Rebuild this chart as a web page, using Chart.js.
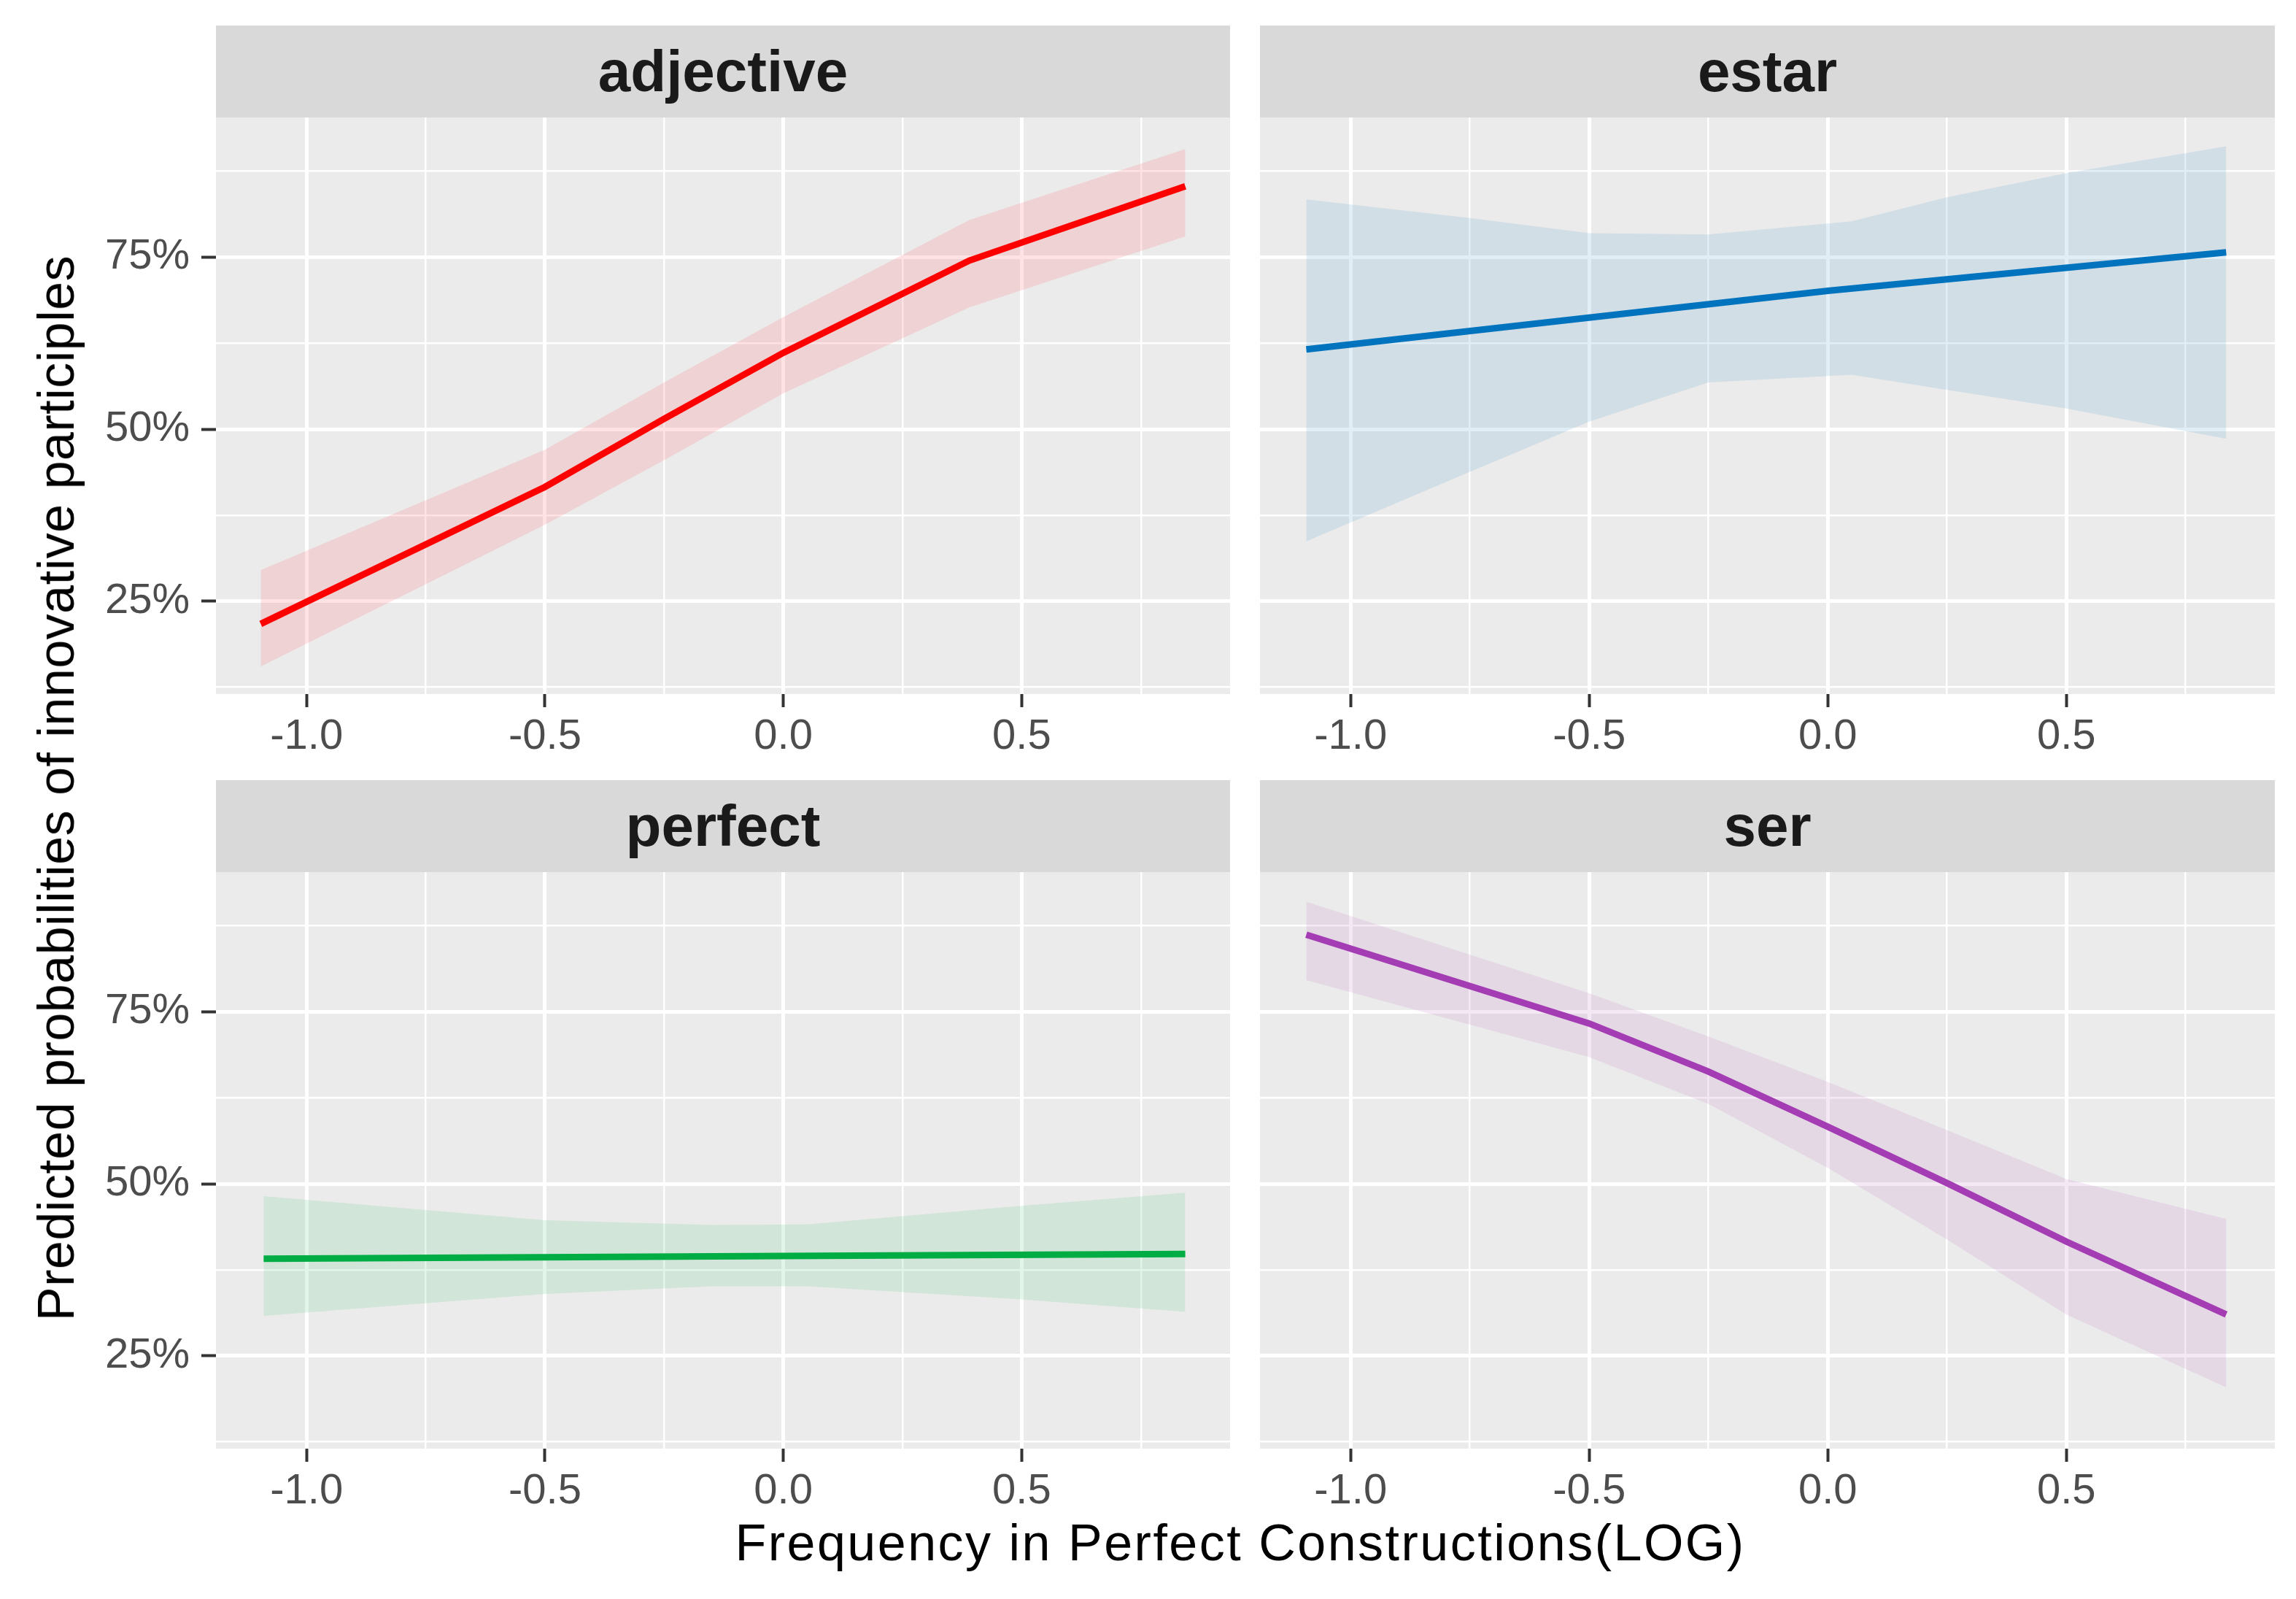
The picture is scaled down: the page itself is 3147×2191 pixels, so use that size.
<!DOCTYPE html>
<html>
<head>
<meta charset="utf-8">
<script src="https://cdn.jsdelivr.net/npm/chart.js@4.4.1/dist/chart.umd.min.js"></script>
<style>
  body { margin: 0; background: #fff; }
  #fig { position: relative; width: 3147px; height: 2191px; background: #fff; font-family: "Liberation Sans", Arial, sans-serif; }
  canvas { position: absolute; }
  .strip { position: absolute; background: #D9D9D9; color: #1A1A1A; font-weight: bold; font-size: 80px; text-align: center; }
  .title { position: absolute; color: #000; font-size: 70px; white-space: nowrap; }
</style>
</head>
<body>
<div id="fig">
  <div class="strip" style="left:296px; top:35px; width:1390px; height:126px; line-height:126px;">adjective</div>
  <div class="strip" style="left:1727px; top:35px; width:1391px; height:126px; line-height:126px;">estar</div>
  <div class="strip" style="left:296px; top:1069px; width:1390px; height:126px; line-height:126px;">perfect</div>
  <div class="strip" style="left:1727px; top:1069px; width:1391px; height:126px; line-height:126px;">ser</div>

  <canvas id="c1" width="1686" height="960" style="left:0px; top:101px;"></canvas>
  <canvas id="c2" width="1391" height="960" style="left:1727px; top:101px;"></canvas>
  <canvas id="c3" width="1686" height="960" style="left:0px; top:1135px;"></canvas>
  <canvas id="c4" width="1391" height="960" style="left:1727px; top:1135px;"></canvas>

  <div class="title" id="ytitle" style="left:77px; top:1080px; letter-spacing:0.5px; transform: translate(-50%, -50%) rotate(-90deg);">Predicted probabilities of innovative participles</div>
  <div class="title" id="xtitle" style="left:1700px; top:2114px; letter-spacing:2.5px; transform: translate(-50%, -50%);">Frequency in Perfect Constructions(LOG)</div>
</div>

<script>
// axis ticks and limits
const xMajor = [-1.0, -0.5, 0.0, 0.5];
const xMinor = [-0.75, -0.25, 0.25, 0.75];
const xLimits = [-1.19, 0.937];
const yMajor = [25, 50, 75];
const yMinor = [12.5, 37.5, 62.5, 87.5];
const yLimits = [11.5, 95.3];

// adjective
const adjX = [-1.096, -0.5, -0.25, 0.0, 0.39, 0.843];
const adjFit = [21.7, 41.6, 51.5, 61.1, 74.5, 85.3];
const adjHi = [29.5, 47.0, 56.8, 66.3, 80.4, 90.7];
const adjLo = [15.5, 36.1, 45.5, 55.2, 67.7, 78.0];

// estar
const estLineX = [-1.093, 0.0, 0.835];
const estFit = [61.6, 70.1, 75.7];
const estX = [-1.093, -0.75, -0.5, -0.25, 0.05, 0.25, 0.5, 0.835];
const estHi = [83.4, 80.7, 78.5, 78.3, 80.2, 83.7, 87.2, 91.1];
const estLo = [33.7, 43.8, 51.1, 56.8, 57.9, 55.7, 53.0, 48.6];

// perfect
const perLineX = [-1.09, 0.0, 0.843];
const perFit = [39.1, 39.5, 39.8];
const perX = [-1.09, -0.5, -0.15, 0.05, 0.5, 0.843];
const perHi = [48.2, 44.7, 44.0, 44.1, 46.8, 48.7];
const perLo = [30.8, 34.0, 35.1, 35.1, 33.2, 31.4];

// ser
const serX = [-1.093, -0.5, -0.25, 0.0, 0.25, 0.5, 0.835];
const serFit = [86.2, 73.3, 66.3, 58.3, 50.1, 41.6, 31.0];
const serHi = [91.0, 77.7, 71.4, 64.8, 57.8, 50.7, 44.9];
const serLo = [79.6, 68.4, 61.6, 52.3, 41.9, 31.0, 20.4];

const FONT = '"Liberation Sans", Arial, sans-serif';

const panelBg = {
  id: 'panelBg',
  beforeDraw(chart) {
    const a = chart.chartArea;
    const ctx = chart.ctx;
    ctx.save();
    ctx.fillStyle = '#EBEBEB';
    ctx.fillRect(a.left, a.top, a.right - a.left, a.bottom - a.top);
    ctx.restore();
  }
};

function pts(xs, ys) {
  return xs.map((x, i) => ({ x: x, y: ys[i] }));
}

function makePanel(id, lineX, fit, bandX, hi, lo, color, band, showY) {
  const isMajorX = v => xMajor.includes(v);
  const isMajorY = v => yMajor.includes(v);

  new Chart(document.getElementById(id), {
    type: 'line',
    data: {
      datasets: [
        { data: pts(lineX, fit), borderColor: color, borderWidth: 9, pointRadius: 0, fill: false, order: 0 },
        { data: pts(bandX, hi), borderWidth: 0, borderColor: 'rgba(0,0,0,0)', backgroundColor: band, pointRadius: 0, fill: '+1', order: 1 },
        { data: pts(bandX, lo), borderWidth: 0, borderColor: 'rgba(0,0,0,0)', pointRadius: 0, fill: false, order: 2 }
      ]
    },
    options: {
      responsive: false,
      devicePixelRatio: 1,
      animation: false,
      layout: { padding: { top: 60, right: 0, left: 0, bottom: 0 } },
      plugins: { legend: { display: false }, tooltip: { enabled: false } },
      scales: {
        x: {
          type: 'linear',
          min: xLimits[0],
          max: xLimits[1],
          afterBuildTicks: s => { s.ticks = xMajor.concat(xMinor).sort((a, b) => a - b).map(v => ({ value: v })); },
          afterFit: s => { s.height = 110; },
          border: { display: false },
          grid: {
            color: '#FFFFFF',
            lineWidth: c => isMajorX(c.tick.value) ? 5 : 2.5,
            tickLength: 18,
            tickColor: c => isMajorX(c.tick.value) ? '#333333' : 'rgba(0,0,0,0)',
            tickWidth: 4
          },
          ticks: {
            color: '#4D4D4D',
            font: { family: FONT, size: 58 },
            padding: 6,
            maxRotation: 0,
            autoSkip: false,
            callback: v => isMajorX(v) ? v.toFixed(1) : ''
          }
        },
        y: {
          type: 'linear',
          min: yLimits[0],
          max: yLimits[1],
          afterBuildTicks: s => { s.ticks = yMajor.concat(yMinor).sort((a, b) => a - b).map(v => ({ value: v })); },
          afterFit: s => { s.width = showY ? 296 : 0; },
          border: { display: false },
          grid: {
            color: '#FFFFFF',
            lineWidth: c => isMajorY(c.tick.value) ? 5 : 2.5,
            drawTicks: showY,
            tickLength: 20,
            tickColor: c => isMajorY(c.tick.value) ? '#333333' : 'rgba(0,0,0,0)',
            tickWidth: 4
          },
          ticks: {
            display: showY,
            color: '#4D4D4D',
            font: { family: FONT, size: 58 },
            padding: 16,
            autoSkip: false,
            callback: v => isMajorY(v) ? v + '%' : ''
          }
        }
      }
    },
    plugins: [panelBg]
  });
}

makePanel('c1', adjX, adjFit, adjX, adjHi, adjLo, '#FF0000', 'rgba(255,125,130,0.22)', true);
makePanel('c2', estLineX, estFit, estX, estHi, estLo, '#0073BE', 'rgba(111,171,211,0.2)', false);
makePanel('c3', perLineX, perFit, perX, perHi, perLo, '#00AD45', 'rgba(111,206,146,0.2)', true);
makePanel('c4', serX, serFit, serX, serHi, serLo, '#A43CB4', 'rgba(206,141,206,0.2)', false);
</script>
</body>
</html>
